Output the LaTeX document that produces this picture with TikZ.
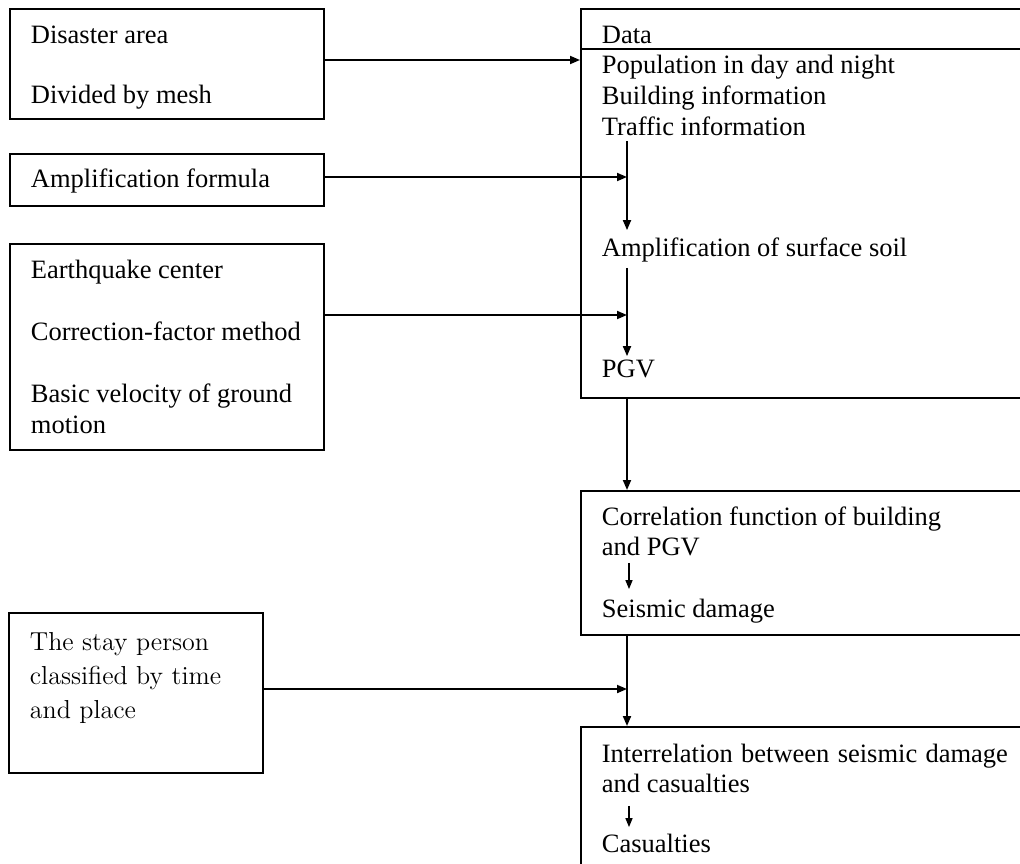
\documentclass[tikz,border=0pt]{standalone}
\usepackage{fontspec}
\newfontfamily\timesfont{Liberation Serif}
\newfontfamily\stayfont{Latin Modern Roman}
\usetikzlibrary{arrows.meta}

\begin{document}
\begin{tikzpicture}[x=0.5pt,y=-0.5pt,->,>={Triangle[length=5pt,width=4pt]},
                    line width=0.9pt]
  \tikzstyle{box}=[draw,rectangle,anchor=north west,inner sep=0pt]
  \tikzstyle{txt}=[anchor=base west,inner sep=0pt,text height=10pt,text depth=2.7pt,
                   font=\timesfont\fontsize{13.25}{15}\selectfont]
  \tikzstyle{staytxt}=[anchor=base west,inner sep=0pt,
                   font=\stayfont\fontsize{13}{16.75}\selectfont]
  \tikzstyle{smallarr}=[line width=0.7pt,>={Triangle[length=4.5pt,width=3.5pt]}]

  \useasboundingbox (0,0) rectangle (1020,863);
  \clip (0,0) rectangle (1020,863);

  % input boxes on the left
  \node[box,minimum width=157pt,minimum height=55pt]   (area)  at (9,8)   {};
  \node[box,minimum width=157pt,minimum height=26pt]   (ampf)  at (9,153) {};
  \node[box,minimum width=157pt,minimum height=103pt]  (quake) at (9,243) {};
  \node[box,minimum width=127pt,minimum height=80pt]   (stay)  at (8,612) {};

  % process boxes on the right
  \node[box,minimum width=230pt,minimum height=194.5pt] (data)     at (580,8)   {};
  \node[box,minimum width=230pt,minimum height=72pt]    (corrbox)  at (580,490) {};
  \node[box,minimum width=230pt,minimum height=80pt]    (interbox) at (580,726) {};

  \node[txt] (disaster) at (30,43)  {Disaster area};
  \node[txt] (mesh)     at (30,103) {Divided by mesh};
  \node[txt] (formula)  at (30,187) {Amplification formula};
  \node[txt] (center)   at (30,278) {Earthquake center};
  \node[txt] (factor)   at (30,340) {Correction-factor method};
  \node[txt] (basic)    at (30,402) {Basic velocity of ground};
  \node[txt] (motion)   at (30,433) {motion};

  \node[staytxt] (stay1) at (29,650) {The stay person};
  \node[staytxt] (stay2) at (29,684) {classified by time};
  \node[staytxt] (stay3) at (29,718) {and place};

  \node[txt] (head)     at (601,43)  {Data};
  \node[txt] (pop)      at (601,73)  {Population in day and night};
  \node[txt] (building) at (601,104) {Building information};
  \node[txt] (traffic)  at (601,135) {Traffic information};
  \node[txt] (amp)      at (601,256) {Amplification of surface soil};
  \node[txt] (pgv)      at (601,377) {PGV};

  \node[txt] (corrfun)  at (601,525) {Correlation function of building};
  \node[txt] (andpgv)   at (601,555) {and PGV};
  \node[txt] (damage)   at (601,617) {Seismic damage};

  \node[txt] (interrel) at (601,762) {\makebox[203pt][s]{Interrelation between seismic damage}};
  \node[txt] (andcas)   at (601,792) {and casualties};
  \node[txt] (casual)   at (601,852) {Casualties};

  \draw[-] (head.south -| data.west) -- (head.south -| data.east);

  \coordinate (j0) at (580,60);
  \coordinate (j1) at (627,177);
  \coordinate (j2) at (627,315);
  \coordinate (j3) at (627,689);
  \coordinate (k1) at (629,576);

  \draw (area.east |- j0)  -- (j0);
  \draw (ampf.east |- j1)  -- (j1);
  \draw (quake.east |- j2) -- (j2);
  \draw (stay.east |- j3)  -- (j3);

  \draw[shorten >=2.5pt] (traffic.south -| j1) -- (amp.north -| j1);
  \draw[shorten <=2.8pt] (amp.south -| j2) -- (pgv.north -| j2);
  \draw (data.south -| j1) -- (corrbox.north -| j1);
  \draw (corrbox.south -| j1) -- (interbox.north -| j1);

  \draw[smallarr,shorten <=0.8pt,shorten >=3.5pt] (andpgv.south -| k1) -- (damage.north -| k1);
  \draw[smallarr,shorten <=3.8pt,shorten >=2pt] (andcas.south -| k1) -- (casual.north -| k1);
\end{tikzpicture}
\end{document}
